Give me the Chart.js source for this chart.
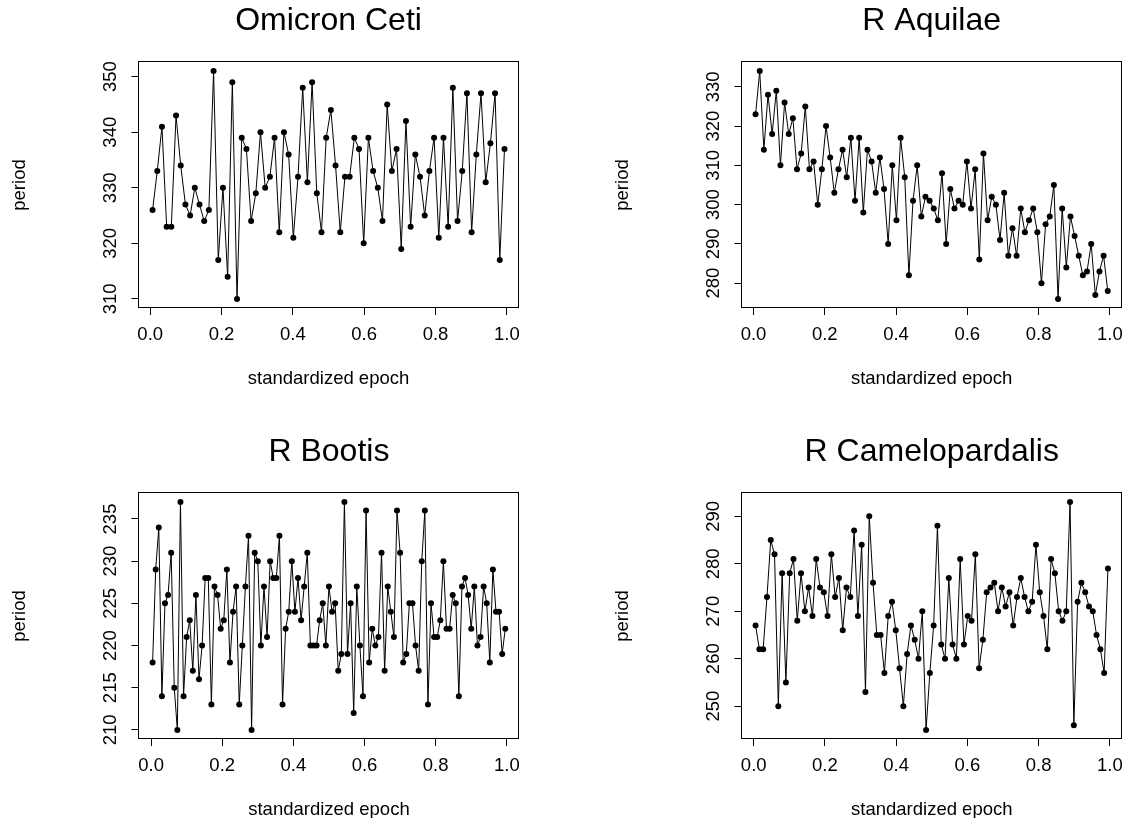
<!DOCTYPE html>
<html><head><meta charset="utf-8">
<script src="https://cdn.jsdelivr.net/npm/chart.js@4.4.0/dist/chart.umd.min.js"></script>
<style>
html,body{margin:0;padding:0;background:#fff;overflow:hidden;width:1132px;height:818px;position:relative}
canvas{position:absolute}
</style></head><body>
<canvas id="c1" width="529" height="390" style="left:0px;top:0px"></canvas>
<canvas id="c2" width="529" height="390" style="left:603px;top:0px"></canvas>
<canvas id="c3" width="529" height="390" style="left:0px;top:431px"></canvas>
<canvas id="c4" width="529" height="390" style="left:603px;top:431px"></canvas>
<script>
const panelTitles = ['Omicron Ceti', 'R Aquilae', 'R Bootis', 'R Camelopardalis'];
const xAxisTitle = 'standardized epoch';
const yAxisTitle = 'period';
const xTickValues = [0, 0.2, 0.4, 0.6, 0.8, 1.0];

const omicronCeti = [326,333,341,323,323,343,334,327,325,330,327,324,326,351,317,330,314,349,310,339,
  337,324,329,340,330,332,339,322,340,336,321,332,348,331,349,329,322,339,344,334,
  322,332,332,339,337,320,339,333,330,324,345,333,337,319,342,323,336,332,325,333,
  339,321,339,323,348,324,333,347,322,336,347,331,338,347,317,337];
const rAquilae = [323,334,314,328,318,329,310,326,318,322,309,313,325,309,311,300,309,320,312,303,
  309,314,307,317,301,317,298,314,311,303,312,304,290,310,296,317,307,282,301,310,
  297,302,301,299,296,308,290,304,299,301,300,311,299,309,286,313,296,302,300,291,
  303,287,294,287,299,293,296,299,293,280,295,297,305,276,299,284,297,292,287,282,
  283,290,277,283,287,278];
const rBootis = [218,229,234,214,225,226,231,215,210,237,214,221,223,217,226,216,220,228,228,213,
  227,226,222,223,229,218,224,227,213,220,227,233,210,231,230,220,227,221,230,228,
  228,233,213,222,224,230,224,228,223,227,231,220,220,220,223,225,220,227,224,225,
  217,219,237,219,225,212,227,220,214,236,218,222,220,221,231,217,227,224,221,236,
  231,218,219,225,225,220,217,230,236,213,225,221,221,223,230,222,222,226,225,214,
  227,228,226,222,227,220,221,227,225,218,229,224,224,219,222];
const rCamelopardalis = [267,262,262,273,285,282,250,278,255,278,281,268,278,270,275,269,281,275,274,269,
  282,273,277,266,275,273,287,269,284,253,290,276,265,265,257,269,272,266,258,250,
  261,267,264,260,270,245,257,267,288,263,260,277,263,260,281,263,269,268,282,258,
  264,274,275,276,270,275,271,274,267,273,277,273,270,272,284,274,269,262,281,278,
  270,268,270,293,246,272,276,274,271,270,265,262,257,279];

const yTicksOmicron = [310, 320, 330, 340, 350];
const yTicksAquilae = [280, 290, 300, 310, 320, 330];
const yTicksBootis = [210, 215, 220, 225, 230, 235];
const yTicksCamelopardalis = [250, 260, 270, 280, 290];

const FONT = 'Liberation Sans, Arial, Helvetica, sans-serif';

const boxPlugin = {
  id: 'plotBox',
  afterDraw(chart) {
    const a = chart.chartArea, ctx = chart.ctx;
    ctx.save();
    ctx.strokeStyle = '#000';
    ctx.lineWidth = 1;
    ctx.strokeRect(Math.round(a.left) - 0.5, Math.round(a.top) - 0.5,
      Math.round(a.right) - Math.round(a.left), Math.round(a.bottom) - Math.round(a.top));
    ctx.restore();
  }
};

function makePanel(id, title, values, yTicks) {
  const n = values.length;
  const pts = values.map((v, i) => ({x: (i + 0.5) / n, y: v}));
  const xLo = 0.5 / n, xHi = 1 - 0.5 / n, xr = xHi - xLo;
  const yLo = Math.min(...values), yHi = Math.max(...values), yr = yHi - yLo;
  new Chart(document.getElementById(id), {
    type: 'line',
    data: { datasets: [{
      data: pts,
      borderColor: '#000', borderWidth: 1, tension: 0,
      pointRadius: 3, pointBackgroundColor: '#000', pointBorderWidth: 0,
      pointHoverRadius: 3
    }]},
    options: {
      responsive: false, animation: false, devicePixelRatio: 1,
      layout: { padding: { left: 0, right: 7.5, top: 0, bottom: 0 } },
      events: [],
      plugins: {
        legend: { display: false }, tooltip: { enabled: false },
        title: { display: true, text: title, fullSize: false, color: '#000',
          font: { family: FONT, size: 32, weight: 'normal' },
          padding: { top: 2, bottom: 21.6 } }
      },
      scales: {
        x: {
          type: 'linear', min: xLo - 0.04 * xr, max: xHi + 0.04 * xr,
          afterFit: s => { s.height = 82; },
          afterBuildTicks: s => { s.ticks = xTickValues.map(v => ({value: v})); },
          grid: { display: true, drawOnChartArea: false, drawTicks: true, tickLength: 7, color: '#000', lineWidth: 1 },
          border: { display: false },
          ticks: { color: '#000', font: { family: FONT, size: 18.5 }, padding: 9, autoSkip: false,
            maxRotation: 0, minRotation: 0, callback: v => Number(v).toFixed(1) },
          title: { display: true, text: xAxisTitle, color: '#000', font: { family: FONT, size: 18.5 },
            padding: { top: 0, bottom: 0 } }
        },
        y: {
          type: 'linear', min: yLo - 0.04 * yr, max: yHi + 0.04 * yr,
          afterFit: s => { s.width = 138.5; },
          afterBuildTicks: s => { s.ticks = yTicks.map(v => ({value: v})); },
          grid: { display: true, drawOnChartArea: false, drawTicks: true, tickLength: 7, color: '#000', lineWidth: 1 },
          border: { display: false },
          ticks: { color: '#000', font: { family: FONT, size: 18.5 }, padding: 5, autoSkip: false,
            crossAlign: 'center', minRotation: 90, maxRotation: 90, callback: v => String(v) },
          title: { display: true, text: yAxisTitle, color: '#000', font: { family: FONT, size: 18.5 },
            padding: { top: 9, bottom: 0 } }
        }
      }
    },
    plugins: [boxPlugin]
  });
}

makePanel('c1', panelTitles[0], omicronCeti, yTicksOmicron);
makePanel('c2', panelTitles[1], rAquilae, yTicksAquilae);
makePanel('c3', panelTitles[2], rBootis, yTicksBootis);
makePanel('c4', panelTitles[3], rCamelopardalis, yTicksCamelopardalis);
</script>
</body></html>
